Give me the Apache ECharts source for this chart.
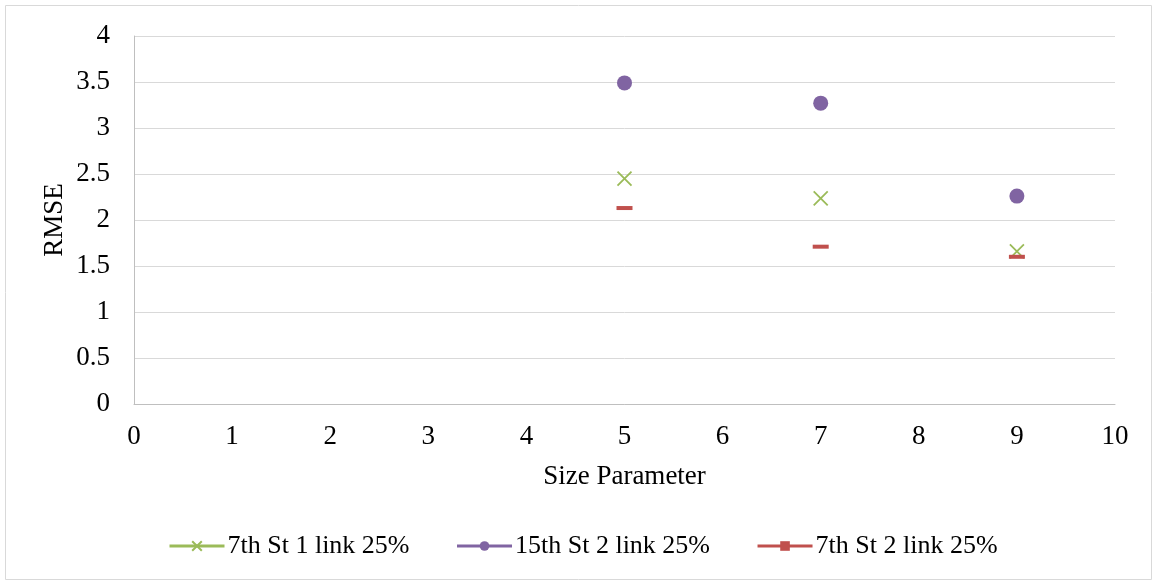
<!DOCTYPE html>
<html>
<head>
<meta charset="utf-8">
<script src="https://cdn.jsdelivr.net/npm/echarts@6/dist/echarts.min.js"></script>
<style>
html, body { margin: 0; padding: 0; background: #fff; }
#chart { width: 1153px; height: 581px; }
</style>
</head>
<body>
<div id="chart"></div>
<script>
// Size parameters and RMSE values per configuration
const sizeParams = [5, 7, 9];
const st7Link1 = [2.45, 2.235, 1.66];
const st15Link2 = [3.49, 3.27, 2.26];
const st7Link2 = [2.13, 1.71, 1.60];
const seriesNames = ['7th St 1 link 25%', '15th St 2 link 25%', '7th St 2 link 25%'];
const colors = ['#9bbb59', '#8064a2', '#c0504d'];

const font = '"Liberation Serif", "Times New Roman", serif';
const pairs = (vals) => sizeParams.map((x, i) => [x, vals[i]]);

const chart = echarts.init(document.getElementById('chart'), null, { renderer: 'canvas' });

function seriesDef(name, vals, color, symbol, size, extra) {
  return Object.assign({
    name: name,
    type: 'line',
    data: pairs(vals),
    symbol: symbol,
    symbolSize: size,
    showSymbol: true,
    lineStyle: { width: 0, opacity: 0 },
    itemStyle: { color: color },
    z: 3
  }, extra || {});
}

chart.setOption({
  animation: false,
  textStyle: { fontFamily: font },
  graphic: [{
    type: 'rect',
    shape: { x: 5.5, y: 5.5, width: 1146, height: 574 },
    style: { fill: 'none', stroke: '#d9d9d9', lineWidth: 1 },
    silent: true
  }, {
    // rotated y-axis title
    type: 'text',
    x: 55, y: 220,
    rotation: Math.PI / 2,
    style: {
      text: 'RMSE',
      font: '27px ' + font,
      fill: '#000',
      align: 'center',
      verticalAlign: 'middle'
    },
    silent: true
  }],
  grid: { left: 134, right: 38, top: 36, bottom: 177 },
  xAxis: {
    type: 'value',
    min: 0, max: 10, interval: 1,
    name: 'Size Parameter',
    nameLocation: 'middle',
    nameGap: 59,
    nameTextStyle: { fontFamily: font, fontSize: 27, color: '#000' },
    axisLine: { show: true, lineStyle: { color: '#bfbfbf', width: 1 } },
    axisTick: { show: false },
    splitLine: { show: false },
    axisLabel: { fontFamily: font, fontSize: 27, color: '#000', margin: 19 }
  },
  yAxis: {
    type: 'value',
    min: 0, max: 4, interval: 0.5,
    axisLine: { show: true, lineStyle: { color: '#bfbfbf', width: 1 } },
    axisTick: { show: false },
    splitLine: { show: true, lineStyle: { color: '#d9d9d9', width: 1 } },
    axisLabel: { fontFamily: font, fontSize: 27, color: '#000', margin: 24 }
  },
  legend: {
    bottom: 17,
    left: 163,
    itemWidth: 55,
    itemHeight: 12,
    itemGap: 46,
    textStyle: { fontFamily: font, fontSize: 26, color: '#000', padding: [0, 0, 0, -2] },
    data: seriesNames.map((n, i) => ({
      name: n,
      lineStyle: { width: 3, opacity: 1, color: colors[i] }
    }))
  },
  series: [
    seriesDef(seriesNames[0], st7Link1, colors[0], 'path://M0,0L10,10M10,0L0,10', 14, {
      itemStyle: { color: colors[0], borderColor: colors[0], borderWidth: 1.8 }
    }),
    seriesDef(seriesNames[1], st15Link2, colors[1], 'circle', 15),
    seriesDef(seriesNames[2], st7Link2, colors[2], 'rect', [16, 4])
  ]
});
</script>
</body>
</html>
